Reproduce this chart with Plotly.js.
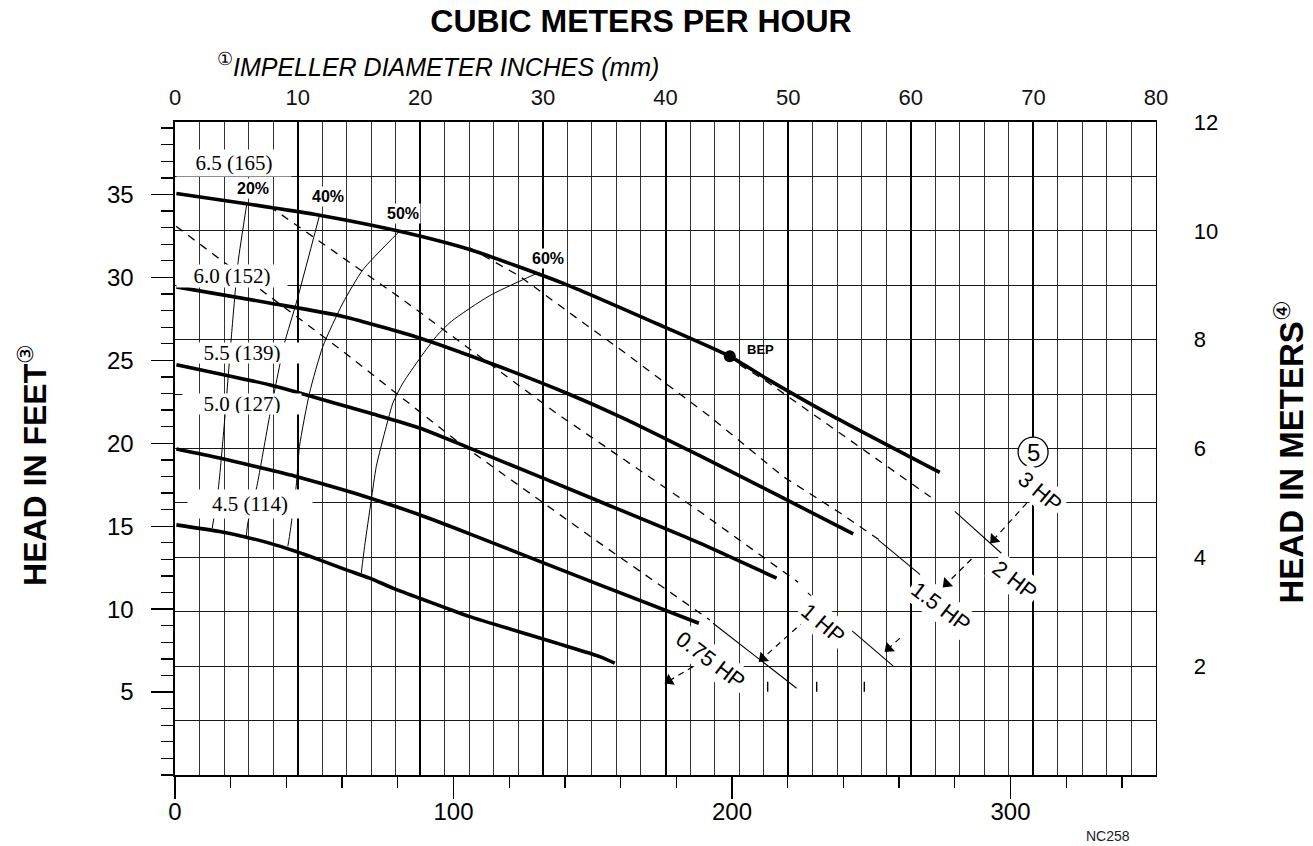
<!DOCTYPE html>
<html><head><meta charset="utf-8">
<script src="https://cdn.plot.ly/plotly-3.0.1.min.js"></script>
<style>
html,body{margin:0;padding:0;background:#fff}
#chart .gridlayer path, #chart .minor-gridlayer path{shape-rendering:crispEdges}
</style>
</head><body>
<div id="chart" style="width:1313px;height:846px"></div>
<script>
// ---------- units ----------
const GPM_PER_M3H = 4.40287;
const FT_PER_M = 3.28084;
const M3H_MAX = 80;
const M_MAX = 12;

// ---------- tick labels ----------
const gpmTicks = [0, 100, 200, 300];
const m3hTicks = [0, 10, 20, 30, 40, 50, 60, 70, 80];
const ftTicks = [5, 10, 15, 20, 25, 30, 35];
const mTicks = [2, 4, 6, 8, 10, 12];

// ---------- impeller head curves (flow GPM, head ft) ----------
const imp65_q = [0.5, 25.6, 51.9, 80.6, 105.8, 140.5, 175.2, 199.2, 212.4, 236.3, 274.6];
const imp65_h = [35.06, 34.44, 33.75, 32.78, 31.68, 29.57, 27.05, 25.24, 23.9, 21.62, 18.24];
const imp60_q = [0.5, 33.9, 60.3, 87.8, 113.0, 140.5, 160.9, 188.4, 216.0, 243.5];
const imp60_h = [29.43, 28.46, 27.65, 26.35, 24.84, 23.03, 21.52, 19.25, 16.90, 14.54];
const imp55_q = [0.5, 33.9, 43.5, 69.9, 87.8, 105.8, 152.5, 188.4, 216.0];
const imp55_h = [24.74, 23.53, 23.09, 21.82, 20.92, 19.71, 16.49, 13.98, 11.87];
const imp50_q = [0.5, 16.0, 33.9, 43.5, 60.3, 69.9, 87.8, 105.8, 152.5, 188.1];
const imp50_h = [19.65, 19.11, 18.40, 18.00, 17.20, 16.70, 15.69, 14.54, 11.46, 9.15];
const imp45_q = [0.5, 16.0, 25.6, 33.9, 43.5, 51.9, 61.5, 69.9, 78.2, 87.8, 97.4, 105.8, 152.5, 157.9];
const imp45_h = [15.08, 14.68, 14.34, 13.98, 13.47, 12.97, 12.37, 11.87, 11.27, 10.66, 10.06, 9.55, 7.14, 6.74];
const impLabels = ['6.5 (165)', '6.0 (152)', '5.5 (139)', '5.0 (127)', '4.5 (114)'];
const impLabel_q = [21.2, 20.5, 24.2, 24.0, 26.9];
const impLabel_h = [36.90, 30.09, 25.44, 22.37, 16.34];

// ---------- efficiency curves ----------
const eff20_q = [25.79, 22.63, 20.30, 17.96, 15.63, 13.37];
const eff20_h = [34.44, 30.89, 26.55, 21.66, 17.38, 14.89];
const eff40_q = [51.91, 43.54, 39.34, 33.95, 29.39, 26.15, 25.58];
const eff40_h = [33.75, 28.46, 26.05, 21.62, 17.40, 15.19, 14.38];
const eff50_q = [80.6, 67.5, 60.3, 53.1, 48.3, 44.7, 43.5, 41.1, 40.5];
const eff50_h = [32.78, 30.47, 28.46, 25.84, 23.03, 19.81, 17.40, 14.38, 13.78];
const eff60_q = [129.75, 112.98, 99.22, 93.83, 88.20, 81.83, 78.24, 75.87, 72.27, 70.48, 68.07, 66.88];
const eff60_h = [30.23, 28.90, 27.35, 26.45, 25.19, 23.63, 22.43, 21.02, 18.60, 16.59, 13.78, 12.17];
const effLabels = ['20%', '40%', '50%', '60%'];
const effLabel_q = [28.1, 54.9, 81.7, 133.9];
const effLabel_h = [35.39, 34.90, 33.85, 31.17];

// ---------- horsepower lines (dashed part, then solid part) ----------
const hp075_q = [0.4, 60.3, 102.2, 152.5, 192.0];
const hp075_h = [33.08, 25.54, 20.01, 13.98, 9.35];
const hp075s_q = [193.2, 223.2];
const hp075s_h = [9.15, 5.23];
const hp1_q = [33.9, 81.8, 136.9, 188.4, 223.7];
const hp1_h = [34.29, 28.66, 21.82, 15.89, 11.63];
const hp1s_q = [227.2, 257.8];
const hp1s_h = [10.98, 6.58];
const hp15_q = [105.8, 123.8, 141.7, 163.3, 192.0, 218.3, 238.7, 253.7];
const hp15_h = [31.78, 30.07, 27.86, 25.24, 21.62, 18.00, 15.81, 14.08];
const hp15s_q = [252.5, 285.4];
const hp15s_h = [14.18, 9.59];
const hp2_q = [202.7, 212.4, 271.3];
const hp2_h = [24.74, 23.73, 16.76];
const hp2s_q = [280.0, 301.6];
const hp2s_h = [15.89, 12.63];
const hpLabels = ['0.75 HP', '1 HP', '1.5 HP', '2 HP', '3 HP'];
const hpLabel_q = [192.5, 232.7, 274.7, 301.6, 310.6];
const hpLabel_h = [6.93, 9.16, 10.13, 11.70, 17.12];
// leader lines: tail (q,h) -> arrow tip (q,h)
const leadTail_q = [186.0, 229.1, 260.3, 286.0, 305.8];
const leadTail_h = [6.53, 9.76, 8.25, 13.02, 16.39];
const leadTip_q = [175.9, 209.7, 254.9, 275.8, 292.8];
const leadTip_h = [5.53, 6.84, 7.44, 11.33, 13.98];
const markBars_q = [212.8, 230.4, 247.5];
const markBars_h = [5.32, 5.32, 5.32];
const circled_q = [308.1];
const circled_h = [19.47];

// ---------- best efficiency point ----------
const bep_q = [199.2];
const bep_h = [25.24];

// ---------- drawing ----------
const SANS = 'Liberation Sans, Arial, Helvetica, sans-serif';
const SERIF = 'Liberation Serif, Times New Roman, serif';
const Q_MAX = M3H_MAX * GPM_PER_M3H;
const H_MAX = M_MAX * FT_PER_M;
const W = 1313, H = 846, ML = 175, MR = 157, MT = 122, MB = 71;
const SX = (W - ML - MR) / Q_MAX;   // px per GPM (for arrow orientation only)
const SY = (H - MT - MB) / H_MAX;   // px per ft

function line(q, h, w, dash, shape) {
  return {x: q, y: h, mode: 'lines', type: 'scatter', hoverinfo: 'skip', showlegend: false,
          line: {color: '#000', width: w, dash: dash || 'solid', shape: shape || 'spline', smoothing: 0.6}};
}

// arrow heads as rotated triangle markers at the leader tips
const arrowQ = [], arrowH = [], arrowAng = [];
leadTip_q.forEach((q, i) => {
  const dx = (q - leadTail_q[i]) * SX;
  const dy = -(leadTip_h[i] - leadTail_h[i]) * SY;
  const len = Math.hypot(dx, dy);
  const back = 5;
  arrowQ.push(q - dx / len * back / SX);
  arrowH.push(leadTip_h[i] + dy / len * back / SY);
  arrowAng.push(Math.atan2(dx, -dy) * 180 / Math.PI);
});

const data = [
  {x: [0, M3H_MAX], y: [0, M_MAX], xaxis: 'x2', yaxis: 'y2', mode: 'markers', marker: {opacity: 0},
   hoverinfo: 'skip', showlegend: false, type: 'scatter'},
  line(eff20_q, eff20_h, 1),
  line(eff40_q, eff40_h, 1),
  line(eff50_q, eff50_h, 1),
  line(eff60_q, eff60_h, 1),
  line(hp075_q, hp075_h, 1.3, '8px,7px', 'linear'),
  line(hp1_q, hp1_h, 1.3, '8px,7px', 'linear'),
  line(hp15_q, hp15_h, 1.3, '8px,7px', 'linear'),
  line(hp2_q, hp2_h, 1.3, '8px,7px', 'linear'),
  line(hp075s_q, hp075s_h, 1.1, 'solid', 'linear'),
  line(hp1s_q, hp1s_h, 1.1, 'solid', 'linear'),
  line(hp15s_q, hp15s_h, 1.1, 'solid', 'linear'),
  line(hp2s_q, hp2s_h, 1.1, 'solid', 'linear'),
  line(imp65_q, imp65_h, 3.6),
  line(imp60_q, imp60_h, 3.6),
  line(imp55_q, imp55_h, 3.6),
  line(imp50_q, imp50_h, 3.6),
  line(imp45_q, imp45_h, 3.6),
  {x: bep_q, y: bep_h, mode: 'markers', type: 'scatter', hoverinfo: 'skip', showlegend: false,
   marker: {color: '#000', size: 12}},
  {x: arrowQ, y: arrowH, mode: 'markers', type: 'scatter', hoverinfo: 'skip', showlegend: false,
   marker: {symbol: 'triangle-up', size: 11, color: '#000', angle: arrowAng, line: {width: 0}}}
];

const annotations = [];
const impW = [112, 108, 120, 116, 122];
const impHt = [24, 20, 18, 18, 26];
impLabels.forEach((t, i) => annotations.push({
  x: impLabel_q[i], y: impLabel_h[i], xref: 'x', yref: 'y', text: t, showarrow: false,
  font: {family: SERIF, size: 21, color: '#000'}, bgcolor: '#fff', width: impW[i], height: impHt[i],
  borderpad: 1, align: 'center', valign: 'middle'}));
effLabels.forEach((t, i) => annotations.push({
  x: effLabel_q[i], y: effLabel_h[i], xref: 'x', yref: 'y', text: '<b>' + t + '</b>', showarrow: false,
  font: {family: SANS, size: 16, color: '#000'}, bgcolor: '#fff', borderpad: 1}));
const hpAngle = [37, 40, 37, 37, 40];
hpLabels.forEach((t, i) => annotations.push({
  x: hpLabel_q[i], y: hpLabel_h[i], xref: 'x', yref: 'y', text: t, showarrow: false, textangle: hpAngle[i],
  font: {family: SANS, size: 22, color: '#000'}, bgcolor: '#fff', borderpad: 2}));
annotations.push({x: bep_q[0] + 11, y: bep_h[0] + 0.4, xref: 'x', yref: 'y', text: '<b>BEP</b>', showarrow: false,
  font: {family: SANS, size: 13, color: '#000'}});
annotations.push({x: circled_q[0], y: circled_h[0], xref: 'x', yref: 'y', text: '5', showarrow: false,
  font: {family: SANS, size: 24, color: '#000'}});
// axis titles
annotations.push({xref: 'paper', yref: 'paper', x: 0.0408, y: 1.0873, xanchor: 'left', yanchor: 'middle',
  text: '<sup>①</sup><i>IMPELLER DIAMETER INCHES (mm)</i>', showarrow: false,
  font: {family: SANS, size: 25, color: '#000'}});
annotations.push({xref: 'paper', yref: 'paper', x: -0.1448, y: 0.4747, xanchor: 'center', yanchor: 'middle',
  text: '<b>HEAD IN FEET</b><sup>③</sup>', textangle: -90, showarrow: false,
  font: {family: SANS, size: 32, color: '#000'}});
annotations.push({xref: 'paper', yref: 'paper', x: 1.1366, y: 0.4939, xanchor: 'center', yanchor: 'middle',
  text: '<b>HEAD IN METERS</b><sup>④</sup>', textangle: -90, showarrow: false,
  font: {family: SANS, size: 33, color: '#000'}});
annotations.push({xref: 'paper', yref: 'paper', x: 0.951, y: -0.0934, xanchor: 'center', yanchor: 'middle',
  text: 'NC258', showarrow: false, font: {family: SANS, size: 14, color: '#222'}});

const shapes = [];
leadTip_q.forEach((q, i) => shapes.push({type: 'line', xref: 'x', yref: 'y',
  x0: leadTail_q[i], y0: leadTail_h[i], x1: q, y1: leadTip_h[i],
  line: {color: '#000', width: 1.2, dash: '6px,5px'}}));
markBars_q.forEach((q, i) => shapes.push({type: 'line', xref: 'x', yref: 'y', ysizemode: 'pixel',
  yanchor: markBars_h[i], x0: q, x1: q, y0: -5, y1: 5, line: {color: '#000', width: 1.4}}));
shapes.push({type: 'circle', xref: 'x', yref: 'y', xsizemode: 'pixel', ysizemode: 'pixel',
  xanchor: circled_q[0], yanchor: circled_h[0], x0: -15, x1: 15, y0: -15, y1: 15,
  fillcolor: '#fff', line: {color: '#000', width: 1.3}, layer: 'above'});

const layout = {
  width: W, height: H,
  margin: {l: ML, r: MR, t: MT, b: MB, pad: 0},
  paper_bgcolor: '#fff', plot_bgcolor: '#fff',
  showlegend: false,
  title: {text: '<b>CUBIC METERS PER HOUR</b>', xref: 'container', yref: 'container',
          x: 641 / W, xanchor: 'center', y: 1 - 21 / H, yanchor: 'middle',
          font: {family: SANS, size: 32, color: '#000'}},
  xaxis: {range: [0, Q_MAX], tickmode: 'array', tickvals: gpmTicks, ticks: 'outside', ticklen: 22,
          tickwidth: 1.3, tickcolor: '#000',
          minor: {tickmode: 'linear', tick0: 0, dtick: 20, ticks: 'outside', ticklen: 11, tickwidth: 1.3,
                  tickcolor: '#000', showgrid: false},
          showgrid: false, zeroline: false, showline: true, linewidth: 2.2, linecolor: '#000',
          tickfont: {family: SANS, size: 24, color: '#000'}, ticklabelstandoff: -8, fixedrange: true},
  yaxis: {range: [0, H_MAX], tickmode: 'array', tickvals: ftTicks, ticks: 'outside', ticklen: 22,
          tickwidth: 1.3, tickcolor: '#000',
          minor: {tickmode: 'linear', tick0: 0, dtick: 1, ticks: 'outside', ticklen: 12, tickwidth: 1.3,
                  tickcolor: '#000', showgrid: false},
          showgrid: false, zeroline: false, showline: true, linewidth: 1.6, linecolor: '#000',
          tickfont: {family: SANS, size: 24, color: '#000'}, ticklabelstandoff: 13, fixedrange: true},
  xaxis2: {overlaying: 'x', side: 'top', anchor: 'y2', range: [0, M3H_MAX], tickmode: 'array',
           tickvals: m3hTicks, ticks: '', showgrid: true, gridcolor: '#000', gridwidth: 2,
           minor: {tickmode: 'linear', tick0: 0, dtick: 2, showgrid: true, gridcolor: '#333', gridwidth: 1, ticks: ''},
           zeroline: false, showline: true, linewidth: 1.6, linecolor: '#000',
           tickfont: {family: SANS, size: 22, color: '#111'}, ticklabelstandoff: 7, fixedrange: true},
  yaxis2: {overlaying: 'y', side: 'right', anchor: 'x2', range: [0, M_MAX], tickmode: 'array',
           tickvals: mTicks, ticks: '', showgrid: true, gridcolor: '#1a1a1a', gridwidth: 1,
           minor: {tickmode: 'linear', tick0: 0, dtick: 1, showgrid: true, gridcolor: '#1a1a1a', gridwidth: 1, ticks: ''},
           zeroline: false, showline: true, linewidth: 1.3, linecolor: '#000',
           tickfont: {family: SANS, size: 22, color: '#000'}, ticklabelstandoff: 32, fixedrange: true},
  annotations: annotations,
  shapes: shapes
};

Plotly.newPlot('chart', data, layout, {staticPlot: true, displayModeBar: false});
</script>
</body></html>
